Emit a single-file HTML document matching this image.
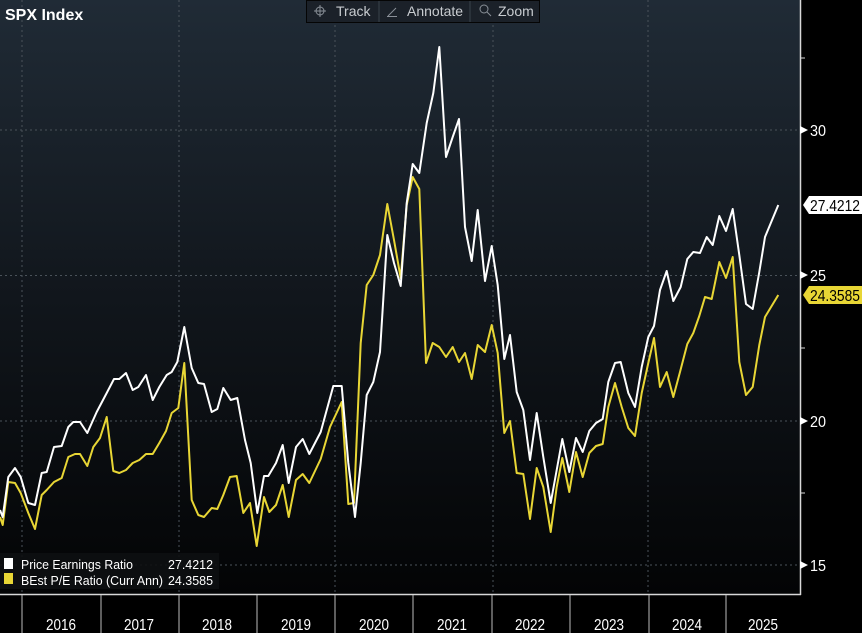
<!DOCTYPE html>
<html><head><meta charset="utf-8"><style>
html,body{margin:0;padding:0;background:#000;}
svg{display:block;}
text{font-family:"Liberation Sans",sans-serif;}
</style></head><body>
<svg width="862" height="633" viewBox="0 0 862 633" xmlns="http://www.w3.org/2000/svg">
<defs>
<linearGradient id="bg" x1="0" y1="0" x2="0" y2="1">
<stop offset="0" stop-color="#202b36"/>
<stop offset="0.5" stop-color="#11161c"/>
<stop offset="1" stop-color="#030405"/>
</linearGradient>
</defs>
<rect width="862" height="633" fill="#000"/>
<rect x="0" y="0" width="800" height="594" fill="url(#bg)"/>
<g stroke="#4a525a" stroke-width="1" stroke-dasharray="2,3">
<line x1="0" y1="130" x2="800" y2="130"/>
<line x1="0" y1="275.5" x2="800" y2="275.5"/>
<line x1="0" y1="421" x2="800" y2="421"/>
<line x1="0" y1="565" x2="800" y2="565"/>
<line x1="22" y1="0" x2="22" y2="594"/>
<line x1="179" y1="0" x2="179" y2="594"/>
<line x1="335" y1="0" x2="335" y2="594"/>
<line x1="493" y1="0" x2="493" y2="594"/>
<line x1="648" y1="0" x2="648" y2="594"/>
</g>
<line x1="800.5" y1="0" x2="800.5" y2="595" stroke="#d8d8d8" stroke-width="1.5"/>
<line x1="0" y1="594.5" x2="801" y2="594.5" stroke="#d8d8d8" stroke-width="1.5"/>
<g stroke="#d8d8d8" stroke-width="1">
<line x1="800" y1="58" x2="805" y2="58"/>
<line x1="800" y1="348" x2="805" y2="348"/>
<line x1="800" y1="493" x2="805" y2="493"/>
</g>
<g fill="#fff">
<polygon points="800,126 808,130 800,134"/>
<polygon points="800,271 808,275 800,279"/>
<polygon points="800,417 808,421 800,425"/>
<polygon points="800,561 808,565 800,569"/>
</g>
<g fill="#fff" font-size="16" lengthAdjust="spacingAndGlyphs">
<text x="810" y="136" textLength="16" lengthAdjust="spacingAndGlyphs">30</text>
<text x="810" y="281" textLength="16" lengthAdjust="spacingAndGlyphs">25</text>
<text x="810" y="427" textLength="16" lengthAdjust="spacingAndGlyphs">20</text>
<text x="810" y="571" textLength="16" lengthAdjust="spacingAndGlyphs">15</text>
</g>
<g stroke="#bbb" stroke-width="1">
<line x1="22" y1="595" x2="22" y2="633"/>
<line x1="101" y1="595" x2="101" y2="633"/>
<line x1="179" y1="595" x2="179" y2="633"/>
<line x1="257" y1="595" x2="257" y2="633"/>
<line x1="335" y1="595" x2="335" y2="633"/>
<line x1="413" y1="595" x2="413" y2="633"/>
<line x1="492" y1="595" x2="492" y2="633"/>
<line x1="570" y1="595" x2="570" y2="633"/>
<line x1="649" y1="595" x2="649" y2="633"/>
<line x1="726" y1="595" x2="726" y2="633"/>
</g>
<g fill="#fff" font-size="16">
<text x="46" y="630" textLength="30" lengthAdjust="spacingAndGlyphs">2016</text>
<text x="124" y="630" textLength="30" lengthAdjust="spacingAndGlyphs">2017</text>
<text x="202" y="630" textLength="30" lengthAdjust="spacingAndGlyphs">2018</text>
<text x="281" y="630" textLength="30" lengthAdjust="spacingAndGlyphs">2019</text>
<text x="359" y="630" textLength="30" lengthAdjust="spacingAndGlyphs">2020</text>
<text x="437" y="630" textLength="30" lengthAdjust="spacingAndGlyphs">2021</text>
<text x="515" y="630" textLength="30" lengthAdjust="spacingAndGlyphs">2022</text>
<text x="594" y="630" textLength="30" lengthAdjust="spacingAndGlyphs">2023</text>
<text x="672" y="630" textLength="30" lengthAdjust="spacingAndGlyphs">2024</text>
<text x="748" y="630" textLength="30" lengthAdjust="spacingAndGlyphs">2025</text>
</g>
<polyline fill="none" stroke="#e8d635" stroke-width="2" stroke-linejoin="round" points="0,517 2.7,525 8.3,482 15,483 20.7,493 28.3,513 35,529 41.7,495 46.7,490 54,482 61.7,478 68.3,457 75,454 80,454 87.3,466 93.3,447 100,438 106.7,417 113.3,471 119.3,473 126,470 132.7,463 139.3,460 146,454 152.7,454 159.3,443 166,431 171.7,413 178.3,408 184.3,363 191.7,500 198.3,515 204,517 211.7,508 217.3,509 223.3,495 230,477 236.7,476 243.3,513 250,503 256.7,546 264,497 269.3,512 276,505 282.7,485 288.7,517 296,480 302.7,474 309.3,483 320.7,459 330,427 341.7,402 348.3,504 354,503 360.7,343 366.7,285 373.3,275 380,255 387.3,204 394,240 400.7,278 406.7,205 412.7,177 419.3,189 426,363 432.7,343 439.3,347 446,357 452.7,347 459,362 465,353 471.7,379 477.7,345 485,352 491.7,325 497.7,353 504.3,433 510,421 516.7,473 523.3,474 530,519 536.7,468 543.3,487 550.7,532 556.7,487 562.3,458 569.3,492 576,452 582.7,477 589.3,453 596,446 602.7,444 608.3,407 615,383 621.7,407 628.3,428 635,436 641.7,393 648.3,363 654,338 660,387 666.7,372 673.3,397 680,372 687.3,344 693.3,333 699.3,316 705,297 711.7,299 719.3,262 726,278 732.7,257 739.3,362 746,395 752.7,387 759.3,345 765,317 778.3,295"/>
<polyline fill="none" stroke="#ffffff" stroke-width="2" stroke-linejoin="round" points="0,510 2.7,517 8.3,477 15,468 20.7,477 28.3,503 35,505 41.7,473 46.7,472 54,447 61.7,446 68.3,427 73.3,422 80,422 87.3,433 96.7,412 106.7,393 114,379 119.3,379 126,373 132.7,390 138.3,387 146,375 152.7,400 159.3,387 166.7,375 171.7,372 177.3,362 184.3,327 191.7,368 198.3,383 204,384 211.7,412 217.3,409 223.3,388 230.7,400 237.3,398 245,440 250.7,463 257.3,513 264,476 268.3,476 276,463 282.7,445 288.7,483 296,447 302.7,439 309.3,454 320.7,432 333.3,386 341.7,386 348.3,463 355,517 360.7,463 366.7,395 373.3,382 380,352 387.3,235 394,263 400.7,286 406.7,203 412.7,164 419.3,173 426.7,123 433.3,93 439.3,47 446,157 452.7,137 459,119 465,227 471.7,261 477.7,210 485,281 491.7,246 497.7,285 504.3,359 510,335 516.7,392 523.3,410 530,460 536.7,413 543.3,457 550.7,503 556.7,470 562.3,439 569.3,472 576,438 582.7,452 589.3,431 596,423 602.7,419 608.3,382 615,363 620.7,362 628.3,393 635,407 641.7,367 648.3,337 654,326 660,290 666.7,271 673.3,301 680.7,287 687.3,259 693.3,252 700,253 706.7,237 712.7,245 719.3,216 726,231 732.7,209 739.3,255 746,304 752.7,309 759.3,272 765,237 778.3,205"/>
<polygon points="803,205 809,196 862,196 862,214 809,214" fill="#fff"/>
<text x="810" y="211" font-size="16" fill="#000" textLength="50" lengthAdjust="spacingAndGlyphs">27.4212</text>
<polygon points="803,295 809,286 862,286 862,304 809,304" fill="#e8d635"/>
<text x="810" y="301" font-size="16" fill="#000" textLength="50" lengthAdjust="spacingAndGlyphs">24.3585</text>
<rect x="0" y="553" width="219" height="36" fill="#0d0f12" opacity="0.9"/>
<rect x="4" y="558" width="9" height="11" fill="#fff"/>
<rect x="4" y="573" width="9" height="11" fill="#e8d635"/>
<g fill="#fff" font-size="13">
<text x="21" y="569" textLength="112" lengthAdjust="spacingAndGlyphs">Price Earnings Ratio</text>
<text x="168" y="569" textLength="45" lengthAdjust="spacingAndGlyphs">27.4212</text>
<text x="21" y="585" textLength="142" lengthAdjust="spacingAndGlyphs">BEst P/E Ratio (Curr Ann)</text>
<text x="168" y="585" textLength="45" lengthAdjust="spacingAndGlyphs">24.3585</text>
</g>
<text x="5" y="20" font-size="16" font-weight="bold" fill="#fff">SPX Index</text>
<rect x="306.5" y="0.5" width="233" height="22" fill="#1b2129" stroke="#050505"/>
<line x1="379" y1="1" x2="379" y2="22" stroke="#3a424b"/>
<line x1="470" y1="1" x2="470" y2="22" stroke="#3a424b"/>
<g fill="#c8ccd0" font-size="14">
<text x="336" y="16">Track</text>
<text x="407" y="16">Annotate</text>
<text x="498" y="16">Zoom</text>
</g>
<g stroke="#8a9098" stroke-width="1" fill="none">
<circle cx="320" cy="11" r="4"/>
<line x1="314" y1="11" x2="326" y2="11"/><line x1="320" y1="5" x2="320" y2="17"/>
<line x1="388" y1="16" x2="396" y2="8"/><line x1="387" y1="16.5" x2="397" y2="16.5"/>
<circle cx="484" cy="9" r="4"/><line x1="487" y1="12" x2="491" y2="16"/>
</g>
</svg>
</body></html>
